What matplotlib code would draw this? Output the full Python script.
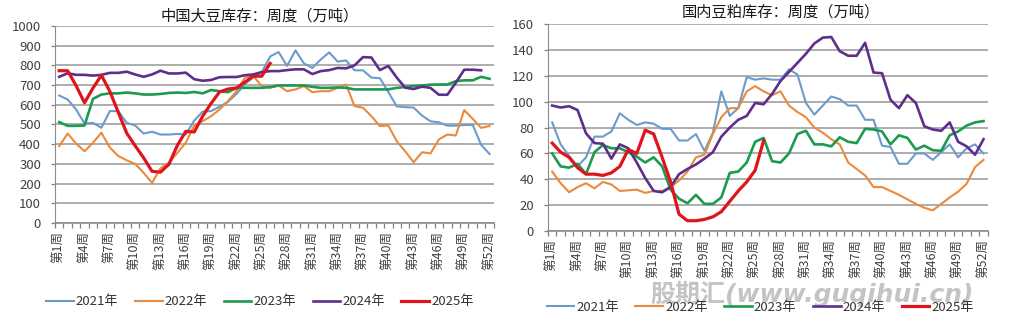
import matplotlib
matplotlib.use('Agg')
import matplotlib.pyplot as plt
import numpy as np

plt.rcParams['font.family'] = ['Noto Sans CJK SC', 'DejaVu Sans']
plt.rcParams['axes.unicode_minus'] = False

# --- data ---
tick_weeks = list(range(1, 53, 3))
tick_labels = ['第%d周' % w for w in tick_weeks]
years = ['2021年', '2022年', '2023年', '2024年', '2025年']

# 中国大豆库存 (万吨)
soy_2021 = [647, 627, 576, 505, 508, 483, 568, 568, 508, 495,
            454, 463, 449, 449, 452, 449, 520, 565, 568, 590,
            615, 655, 705, 740, 765, 845, 868, 797, 876, 810,
            787, 830, 866, 819, 825, 775, 775, 738, 735, 665,
            592, 588, 586, 545, 516, 511, 494, 494, 497, 498,
            397, 350]
soy_2022 = [390, 454, 403, 364, 407, 458, 383, 340, 318, 300,
            255, 203, 278, 305, 356, 407, 495, 517, 542, 576,
            619, 669, 737, 746, 695, 686, 698, 669, 678, 695,
            664, 669, 669, 686, 703, 593, 585, 542, 492, 495,
            415, 364, 308, 359, 353, 424, 449, 444, 573, 529,
            483, 492]
soy_2023 = [512, 493, 493, 495, 630, 652, 658, 658, 662, 658,
            652, 652, 655, 660, 662, 660, 665, 658, 675, 669,
            664, 686, 686, 686, 686, 690, 698, 698, 698, 698,
            691, 686, 686, 688, 686, 678, 678, 678, 678, 678,
            686, 690, 695, 698, 702, 703, 703, 720, 724, 724,
            742, 732]
soy_2024 = [742, 760, 752, 752, 748, 752, 762, 762, 768, 754,
            742, 754, 773, 759, 759, 763, 730, 722, 726, 740,
            741, 741, 750, 754, 766, 771, 771, 776, 780, 780,
            756, 771, 776, 787, 785, 800, 842, 840, 776, 797,
            738, 687, 680, 692, 686, 651, 651, 712, 778, 778,
            775]
soy_2025 = [773, 773, 697, 610, 685, 750, 668, 562, 456, 392,
            331, 262, 258, 298, 394, 465, 462, 542, 607, 665,
            680, 685, 715, 745, 745, 810]

# 国内豆粕库存 (万吨)
meal_2021 = [84, 67, 58, 50, 57, 73, 73, 77, 91, 86,
             82, 84, 83, 79, 79, 70, 70, 75, 62, 76,
             108, 89, 95, 119, 117, 118, 117, 117, 125, 121,
             99, 90, 97, 104, 102, 97, 97, 86, 86, 66,
             65, 52, 52, 60, 60, 55, 61, 67, 57, 64,
             67, 60]
meal_2022 = [46, 37, 30, 34, 37, 33, 38, 36, 31, 31.5,
             32, 29.5, 31, 31, 34, 39, 46, 57, 59, 75,
             88, 95, 95, 108, 112, 108, 105, 108, 97, 92,
             88, 80, 76, 71, 67, 53, 48, 43, 34, 34,
             31, 28, 24.5, 21, 18, 16, 21, 26, 30.5, 36.5,
             49.5, 55]
meal_2023 = [60, 50, 49, 52, 44, 61, 66.5, 64, 64, 61,
             57.5, 53, 57, 50, 32, 25, 21.5, 28, 21, 21,
             26, 45, 46, 53, 69, 72, 54, 53, 60, 75,
             77.5, 67, 67, 65.5, 72.5, 69, 68, 79, 78.5, 77,
             67, 74, 72, 63, 66, 62.5, 62, 74, 77, 81.5,
             84, 85]
meal_2024 = [97, 95.5, 96.5, 93.5, 75.5, 68, 67.5, 56, 67, 64,
             53, 41, 31, 30, 34, 44, 48, 51.5, 56, 61,
             73, 80, 86, 89, 99, 98, 106, 116, 123, 130,
             137, 145, 149.5, 150, 139, 135.5, 135.5, 145.5, 122.5, 122,
             101.5, 95, 105, 99, 81, 78.5, 77.5, 84, 69, 65.5,
             59, 71]
meal_2025 = [68, 61, 57, 49, 44, 44, 43, 45, 50, 63,
             60, 78, 75, 57, 38, 13, 8, 8, 9, 11,
             15, 23, 31, 38, 47, 70]

colors = ['#6b9bcb', '#eb8a3c', '#1c9a4e', '#5e2e8c', '#e0141c']
widths = [1.5, 1.5, 1.9, 1.9, 2.3]


def draw_panel(ax, series, ymax, ystep):
    """One weekly inventory panel"""
    for vals, name, c, lw in zip(series, years, colors, widths):
        x = np.arange(1, len(vals) + 1)
        ax.plot(x, vals, color=c, lw=lw, label=name, solid_joinstyle='round')

    ax.set_xlim(0.5, 52.5)
    ax.set_ylim(0, ymax)
    ax.set_yticks(np.arange(0, ymax + 1, ystep))
    ax.yaxis.grid(True, color='#a0a0a0', lw=1.2)
    ax.set_axisbelow(True)

    ax.set_xticks(tick_weeks)
    ax.set_xticklabels(tick_labels, rotation=90, va='top', ha='center')
    ax.set_xticks(np.arange(0.5, 53, 1), minor=True)
    ax.tick_params(axis='x', which='major', length=0, pad=6, labelsize=9,
                   colors='#404040')
    ax.tick_params(axis='x', which='minor', length=3.5, width=0.9,
                   color='#808080')
    ax.tick_params(axis='y', length=3, width=0.9, color='#808080', pad=7,
                   labelsize=9.5, labelcolor='#404040')

    for s in ['top', 'right']:
        ax.spines[s].set_visible(False)
    ax.spines['left'].set_color('#8c8c8c')
    ax.spines['bottom'].set_color('#8c8c8c')
    ax.spines['bottom'].set_linewidth(1.2)

    leg = ax.legend(loc='center', ncol=5, frameon=False, fontsize=9.5,
                    handlelength=2.1, columnspacing=1.25, handletextpad=0.15,
                    borderpad=0, borderaxespad=0)
    for t in leg.get_texts():
        t.set_color('#333333')
    return leg


fig = plt.figure(figsize=(10.11, 3.25), dpi=100)
ax1 = fig.add_axes([0.0544, 0.314, 0.434, 0.606])
ax2 = fig.add_axes([0.542, 0.289, 0.435, 0.637])

leg1 = draw_panel(ax1, [soy_2021, soy_2022, soy_2023, soy_2024, soy_2025], 1000, 100)
leg2 = draw_panel(ax2, [meal_2021, meal_2022, meal_2023, meal_2024, meal_2025], 160, 20)
leg1.set_bbox_to_anchor((0.257, 0.071), transform=fig.transFigure)
leg2.set_bbox_to_anchor((0.752, 0.055), transform=fig.transFigure)

fig.text(0.257, 0.951, '中国大豆库存：周度（万吨）', ha='center', va='center',
         fontsize=11, color='#1a1a1a')
fig.text(0.772, 0.963, '国内豆粕库存：周度（万吨）', ha='center', va='center',
         fontsize=11, color='#1a1a1a')

# watermark
fig.text(0.803, 0.095, '股期汇(www.guqihui.cn)', ha='center', va='center',
         fontsize=18, fontweight='bold', fontstyle='italic', color='#c4c4c4',
         family=['DejaVu Sans', 'Noto Sans CJK SC'], zorder=-1)

fig.savefig('out.png', dpi=100, facecolor='white')
